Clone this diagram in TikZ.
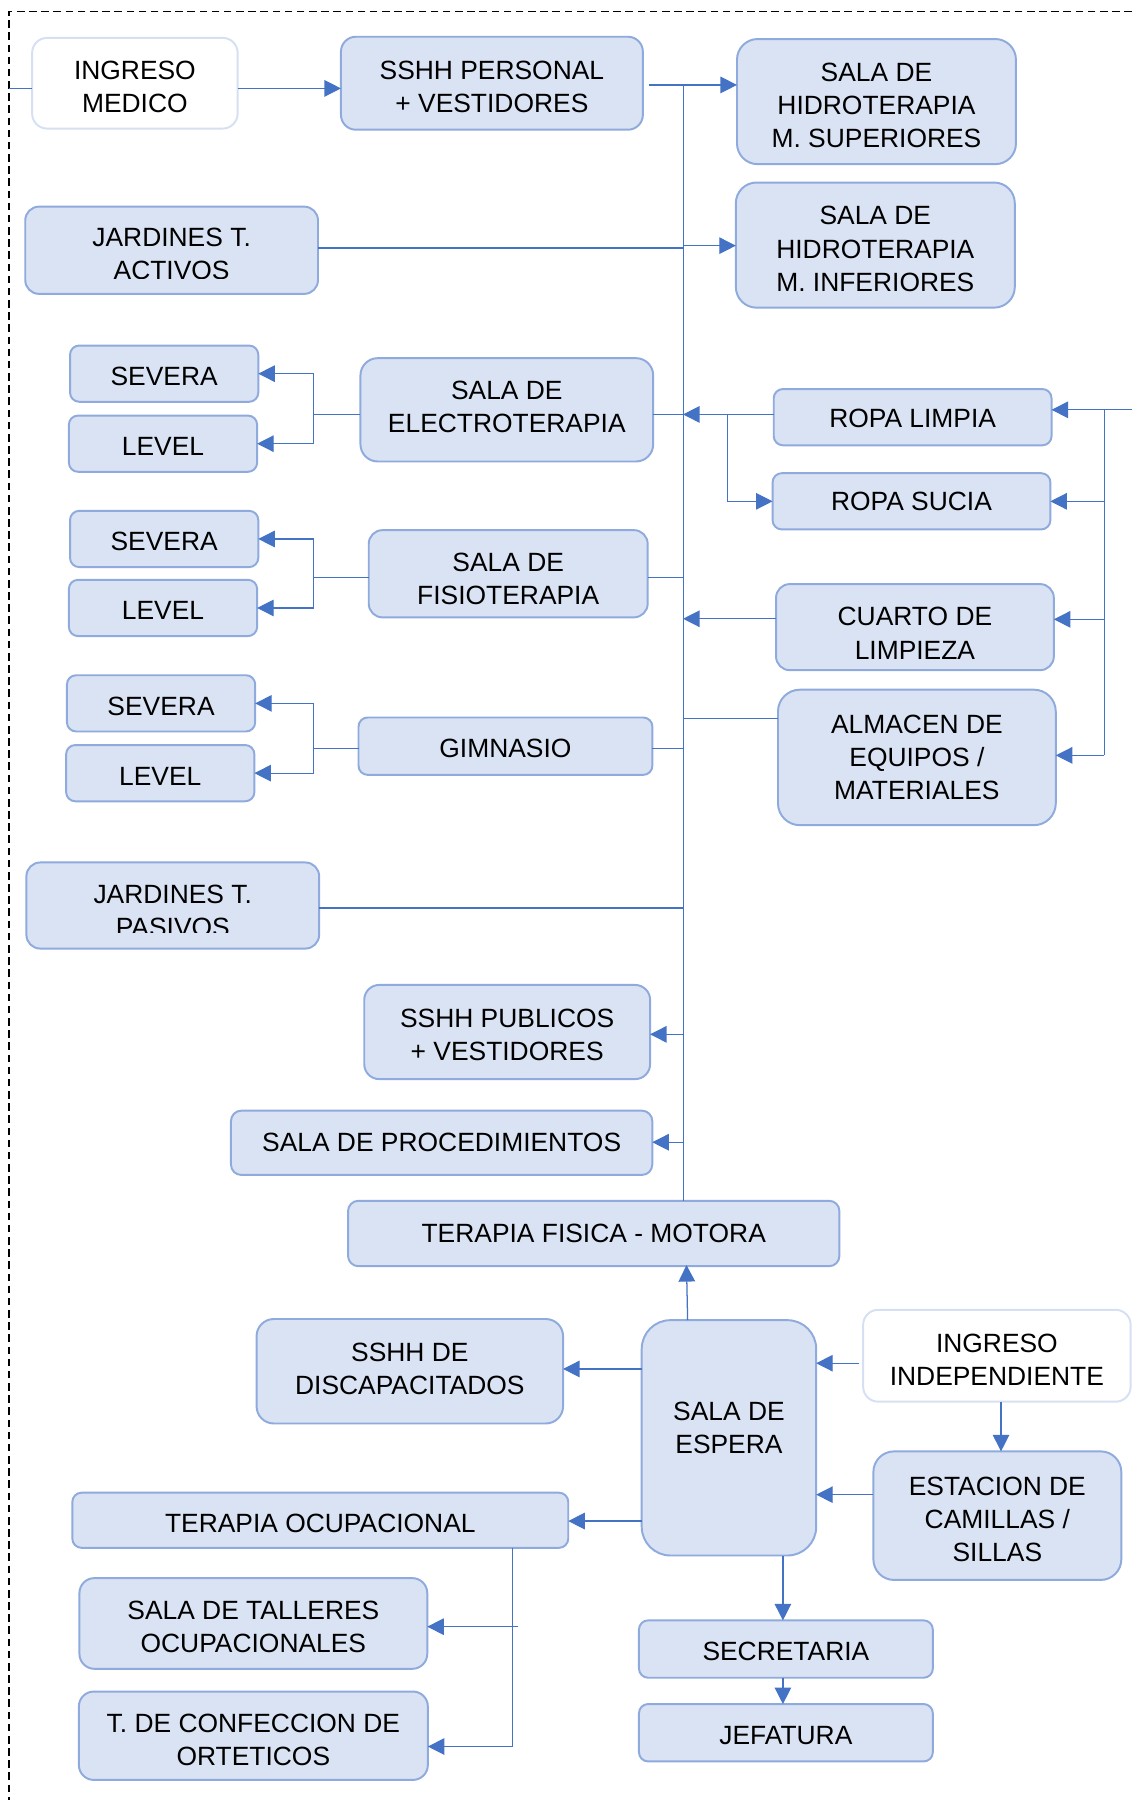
\documentclass[tikz,border=0pt]{standalone}
\usepackage{fontspec}
\setmainfont{Liberation Sans}
\usetikzlibrary{arrows.meta}
\definecolor{boxfill}{HTML}{DAE3F3}
\definecolor{boxline}{HTML}{8FAADC}
\definecolor{paleline}{HTML}{D6E0F3}
\definecolor{flow}{HTML}{4472C4}
% invisible strut on a first text line, to set the text a little lower
\newcommand{\txtdrop}[1]{\rule{0pt}{#1}}

\begin{document}
\begin{tikzpicture}[x=0.5pt,y=-0.5pt,
  every node/.style={font=\fontsize{11.5}{14.4}\selectfont, align=center, inner sep=0pt, outer sep=0pt},
  drop/.style={execute at begin node={\rule{0pt}{#1}}},
  lift/.style={execute at end node={\rule[-#1]{0pt}{0pt}}},
  room/.style n args={3}{draw=boxline, fill=boxfill, line width=0.85pt,
    minimum width=#1*0.5pt, minimum height=#2*0.5pt, rounded corners=#3*0.5pt},
  entry/.style n args={3}{draw=paleline, fill=white, line width=0.85pt,
    minimum width=#1*0.5pt, minimum height=#2*0.5pt, rounded corners=#3*0.5pt},
  link/.style={draw=flow, line width=0.55pt},
  spineline/.style={draw=flow, line width=0.45pt},
  flowarrow/.style={link, -{Triangle[length=7.2pt,width=7.2pt]}},
  frame/.style={draw=black, line width=0.8pt, dash pattern=on 3.3pt off 2pt}
]
\useasboundingbox (0,0) rectangle (986,1568);

% dashed site limit
\draw[frame] (986,10) -- (7.8,10) -- (7.8,1568);

% ---------- rooms ----------
\node[entry={179}{79}{13}] (ingmed) at (117.5,72.5) {\txtdrop{11.4pt}INGRESO\\MEDICO};
\node[room={263}{81}{13}] (sshhp) at (428.5,72.5) {\txtdrop{11.4pt}SSHH PERSONAL\\+ VESTIDORES};
\node[room={243}{109}{18}] (hsup) at (763.5,88.5) {\txtdrop{11.4pt}SALA DE\\HIDROTERAPIA\\M. SUPERIORES};
\node[room={243}{109}{18}] (hinf) at (762.5,213.5) {\txtdrop{11.4pt}SALA DE\\HIDROTERAPIA\\M. INFERIORES};

\node[room={255}{76}{12}] (jact) at (149.5,218) {};
\begin{scope}
  \clip (22,180) rectangle (277,243);
  \node (jactt) at (149.5,221.5) {JARDINES T.\\ACTIVOS};
\end{scope}

\node[room={164}{49}{8}, drop=10.4pt] (sev1) at (143,325.5) {SEVERA};
\node[room={164}{49}{8}, drop=10.4pt] (lev1) at (142,386.5) {LEVEL};
\node[room={255}{90}{15}, lift=2.5pt] (elec) at (441.5,357) {SALA DE\\ELECTROTERAPIA};
\node[room={242}{49}{8}, drop=9.4pt] (ropal) at (795,363.4) {ROPA LIMPIA};
\node[room={242}{49}{8}] (ropas) at (794,436.7) {ROPA SUCIA};

\node[room={164}{49}{8}, drop=10.4pt] (sev2) at (143,469.5) {SEVERA};
\node[room={164}{49}{8}, drop=10.4pt] (lev2) at (142,529.6) {LEVEL};
\node[room={243}{76}{12}] (fisio) at (442.7,499.8) {\txtdrop{12.4pt}SALA DE\\FISIOTERAPIA};
\node[room={242}{75}{12}] (cuarto) at (797,546.3) {\txtdrop{13.4pt}CUARTO DE\\LIMPIEZA};

\node[room={164}{49}{8}, drop=10.4pt] (sev3) at (140.3,612.7) {SEVERA};
\node[room={164}{49}{8}, drop=10.4pt] (lev3) at (139.6,673.5) {LEVEL};
\node[room={256}{50}{8}, drop=10.4pt] (gim) at (440.3,650) {GIMNASIO};
\node[room={242}{118}{19}] (alm) at (798.7,659.8) {ALMACEN DE\\EQUIPOS /\\MATERIALES};

\node[room={255}{75}{12}] (jpas) at (150.5,788.8) {};
\begin{scope}
  \clip (23,751) rectangle (278,812.5);
  \node (jpast) at (150.5,793.5) {JARDINES T.\\PASIVOS};
\end{scope}

\node[room={249}{82}{13}] (spub) at (441.8,899) {\txtdrop{10.4pt}SSHH PUBLICOS\\+ VESTIDORES};
\node[room={367}{56}{9}] (proc) at (384.7,995.5) {SALA DE PROCEDIMIENTOS};
\node[room={428}{57}{9}] (tfm) at (517.2,1074.5) {TERAPIA FISICA - MOTORA};

\node[room={267}{91}{15}, lift=2pt] (disc) at (357,1194.5) {SSHH DE\\DISCAPACITADOS};
\node[room={152}{205}{25}] (esp) at (635,1252.5) {};
\node (espt) at (635,1244) {SALA DE\\ESPERA};
\node[entry={233}{80}{13}] (ingind) at (868.4,1181) {\txtdrop{11.4pt}INGRESO\\INDEPENDIENTE};
\node[room={216}{112}{18}] (est) at (868.8,1320.3) {\txtdrop{11.4pt}ESTACION DE\\CAMILLAS /\\SILLAS};
\node[room={432}{48}{8}, drop=10.4pt] (toc) at (279,1324.3) {TERAPIA OCUPACIONAL};
\node[room={303}{79}{13}] (tall) at (220.7,1414.2) {\txtdrop{11.4pt}SALA DE TALLERES\\OCUPACIONALES};
\node[room={304}{77}{13}] (ort) at (220.7,1512) {\txtdrop{11.9pt}T. DE CONFECCION DE\\ORTETICOS};
\node[room={256}{50}{8}, drop=10.4pt] (sec) at (684.6,1436.5) {SECRETARIA};
\node[room={256}{50}{8}, drop=10.4pt] (jef) at (684.6,1509.4) {JEFATURA};

% ---------- helper points ----------
\coordinate (lft) at (7.8,77);
\coordinate (sptop) at (595,74);
\coordinate (spbot) at (sptop |- tfm.north);
\coordinate (ej) at (273,361);
\coordinate (fj) at (273,503);
\coordinate (gj) at (273,652);
\coordinate (rj) at (634,361);
\coordinate (rv) at (962,357);
\coordinate (rvb) at (962,658);
\coordinate (redge) at (986,357);
\coordinate (upa) at (599,1150);
\coordinate (upb) at (598,1102);
\coordinate (ijx) at (872,1221);
\coordinate (ejx) at (682,1355);
\coordinate (tj) at (446.6,1521.4);
\coordinate (tb) at (451,1417);

% ---------- main corridor ----------
\draw[spineline] (sptop) -- (spbot);

% upper entrance
\draw[link] (lft) -- (ingmed.west |- lft);
\draw[flowarrow] (ingmed.east |- 0,77) -- (sshhp.west |- 0,77);
\draw[flowarrow] ([xshift=2.5pt]sshhp.east |- sptop) -- (hsup.west |- sptop);
\draw[link] (jact.east |- 0,216) -- (sptop |- 0,216);
\draw[flowarrow] (sptop |- 0,214) -- (hinf.west |- 0,214);

% electrotherapy
\draw[link] (elec.east |- ej) -- (sptop |- ej);
\draw[link] (elec.west |- ej) -- (ej);
\draw[flowarrow] (ej) |- (sev1.east);
\draw[flowarrow] (ej) |- (lev1.east);

% physiotherapy
\draw[link] (fisio.east |- fj) -- (sptop |- fj);
\draw[link] (fisio.west |- fj) -- (fj);
\draw[flowarrow] (fj) |- (sev2.east);
\draw[flowarrow] (fj) |- (lev2.east);

% gym
\draw[link] (gim.east |- gj) -- (sptop |- gj);
\draw[link] (gim.west |- gj) -- (gj);
\draw[flowarrow] (gj) |- (sev3.east);
\draw[flowarrow] (gj) |- (lev3.east);

% linen and services
\draw[flowarrow] (ropal.west |- rj) -- (sptop |- rj);
\draw[flowarrow] (rj) |- (ropas.west);
\draw[flowarrow] (cuarto.west |- 0,539) -- (sptop |- 0,539);
\draw[link] (alm.west |- 0,626) -- (sptop |- 0,626);

% service entrance on the right
\draw[flowarrow] (redge) -- (ropal.east |- redge);
\draw[link] (rv) -- (rvb);
\draw[flowarrow] (rv |- ropas.east) -- (ropas.east);
\draw[flowarrow] (rv |- 0,539.5) -- (cuarto.east |- 0,539.5);
\draw[flowarrow] (rvb) -- (alm.east |- rvb);

% lower corridor rooms
\draw[link] (jpas.east |- 0,791) -- (sptop |- 0,791);
\draw[flowarrow] (sptop |- 0,901) -- (spub.east |- 0,901);
\draw[flowarrow] (sptop |- 0,995) -- (proc.east |- 0,995);

% waiting room
\draw[flowarrow] (upa) -- (upb);
\draw[flowarrow] (esp.west |- 0,1192.5) -- (disc.east |- 0,1192.5);
\draw[flowarrow] (esp.west |- 0,1325) -- (toc.east |- 0,1325);
\draw[flowarrow] ([xshift=-1.7pt]ingind.west |- 0,1187.5) -- (esp.east |- 0,1187.5);
\draw[flowarrow] (ijx) -- (est.north -| ijx);
\draw[flowarrow] (est.west |- 0,1302) -- (esp.east |- 0,1302);
\draw[flowarrow] (ejx) -- (sec.north -| ejx);
\draw[flowarrow] (sec.south -| ejx) -- (jef.north -| ejx);

% occupational therapy
\draw[flowarrow] (toc.south -| tj) |- (ort.east |- tj);
\draw[flowarrow] (tb) -- (tall.east |- tb);
\end{tikzpicture}
\end{document}
